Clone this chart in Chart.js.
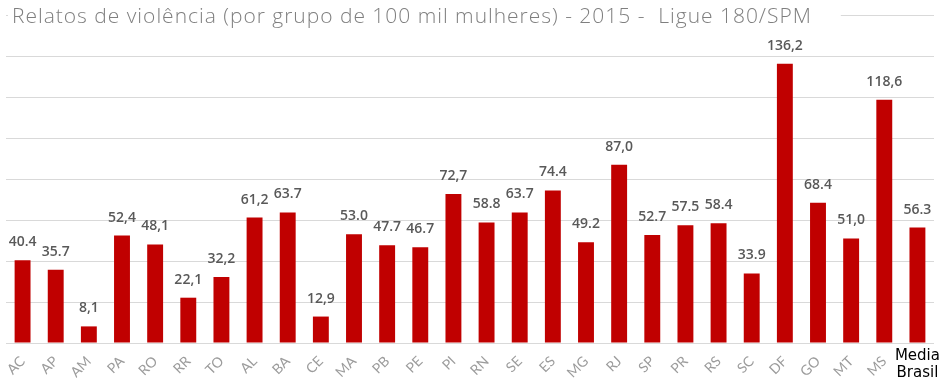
<!DOCTYPE html>
<html lang="pt-BR">
<head>
    <meta charset="UTF-8">
    <title>Relatos de violência - Ligue 180/SPM</title>
    <script src="https://cdn.jsdelivr.net/npm/chart.js"></script>
    <style>
        html, body {
            margin: 0;
            padding: 0;
            background: #ffffff;
        }
        #chartContainer {
            width: 941px;
            height: 386px;
        }
    </style>
</head>
<body>
    <div id="chartContainer">
        <canvas id="relatosChart"></canvas>
    </div>
    <script>
        const titulo = 'Relatos de violência (por grupo de 100 mil mulheres) - 2015 -  Ligue 180/SPM';

        const estados = [
            'AC', 'AP', 'AM', 'PA', 'RO', 'RR', 'TO', 'AL', 'BA', 'CE', 'MA', 'PB', 'PE', 'PI',
            'RN', 'SE', 'ES', 'MG', 'RJ', 'SP', 'PR', 'RS', 'SC', 'DF', 'GO', 'MT', 'MS', 'Media Brasil'
        ];

        const relatos = [
            40.4, 35.7, 8.1, 52.4, 48.1, 22.1, 32.2, 61.2, 63.7, 12.9, 53.0, 47.7, 46.7, 72.7,
            58.8, 63.7, 74.4, 49.2, 87.0, 52.7, 57.5, 58.4, 33.9, 136.2, 68.4, 51.0, 118.6, 56.3
        ];

        // rótulos como aparecem no original (vírgula e ponto misturados)
        const rotulos = [
            '40.4', '35.7', '8,1', '52,4', '48,1', '22,1', '32,2', '61,2', '63.7', '12,9', '53.0', '47.7', '46.7', '72,7',
            '58.8', '63.7', '74.4', '49.2', '87,0', '52.7', '57.5', '58.4', '33.9', '136,2', '68.4', '51,0', '118,6', '56.3'
        ];

        const eixoY = { min: 0, max: 160, passo: 20 };

        // título por cima da linha de grade superior, com fundo branco
        const tituloPlugin = {
            id: 'tituloPlugin',
            afterDraw(chart) {
                const ctx = chart.ctx;
                ctx.save();
                ctx.font = '300 21px "Open Sans"';
                // o original usa uma fonte mais larga: espaçar as letras até ~800px
                const base = ctx.measureText(titulo).width;
                const extra = Math.max(0, (800 - base) / titulo.length);
                ctx.letterSpacing = extra.toFixed(2) + 'px';
                const w = ctx.measureText(titulo).width;
                ctx.fillStyle = '#ffffff';
                ctx.fillRect(8, 2, w + 33, 30);
                ctx.fillStyle = '#7f7f7f';
                ctx.textBaseline = 'middle';
                ctx.fillText(titulo, 12, 17);
                ctx.restore();
            }
        };

        // valores em cima das barras + "Media Brasil" sem rotação
        const rotulosPlugin = {
            id: 'rotulosPlugin',
            afterDatasetsDraw(chart) {
                const ctx = chart.ctx;
                const meta = chart.getDatasetMeta(0);
                ctx.save();
                ctx.font = '600 14px "Open Sans"';
                ctx.fillStyle = '#595959';
                ctx.textAlign = 'center';
                ctx.textBaseline = 'middle';
                meta.data.forEach((bar, i) => {
                    ctx.fillText(rotulos[i], bar.x, bar.y - 18);
                });

                const xScale = chart.scales.x;
                const ultimo = estados.length - 1;
                const px = xScale.getPixelForTick(ultimo);
                ctx.font = '15px "DejaVu Sans"';
                ctx.fillStyle = '#000000';
                const partes = estados[ultimo].split(' ');
                ctx.fillText(partes[0], px, 356);
                ctx.fillText(partes[1], px, 373);
                ctx.restore();
            }
        };

        const ctx = document.getElementById('relatosChart').getContext('2d');

        new Chart(ctx, {
            type: 'bar',
            data: {
                labels: estados,
                datasets: [{
                    data: relatos,
                    backgroundColor: '#c00000',
                    borderWidth: 0,
                    barPercentage: 0.48,
                    categoryPercentage: 1
                }]
            },
            options: {
                responsive: true,
                maintainAspectRatio: false,
                animation: false,
                layout: {
                    padding: { top: 15, left: 6, right: 7, bottom: 0 }
                },
                plugins: {
                    legend: { display: false },
                    tooltip: { enabled: false }
                },
                scales: {
                    x: {
                        grid: { display: false },
                        border: { display: false },
                        ticks: {
                            minRotation: 45,
                            maxRotation: 45,
                            autoSkip: false,
                            padding: 2,
                            color: '#9c9c9c',
                            font: { family: 'Lato', size: 14 },
                            callback: function(value, index) {
                                return index === estados.length - 1 ? '' : estados[index];
                            }
                        },
                        afterFit: function(scale) {
                            scale.height = 43;
                        }
                    },
                    y: {
                        min: eixoY.min,
                        max: eixoY.max,
                        border: { display: false },
                        grid: { color: '#d9d9d9', drawTicks: false },
                        ticks: { display: false, stepSize: eixoY.passo },
                        afterFit: function(scale) {
                            scale.width = 0;
                        }
                    }
                }
            },
            plugins: [tituloPlugin, rotulosPlugin]
        });
    </script>
</body>
</html>
